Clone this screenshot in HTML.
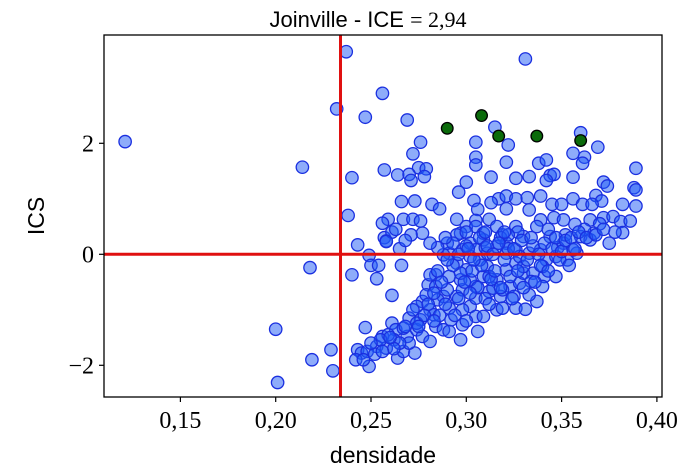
<!DOCTYPE html>
<html><head><meta charset="utf-8"><style>
html,body{margin:0;padding:0;background:#fff;}
svg{display:block;}
</style></head><body>
<svg id="chart" width="700" height="471" xmlns="http://www.w3.org/2000/svg">
<text x="368" y="27" text-anchor="middle" font-family="Liberation Sans, sans-serif" font-size="22">Joinville - ICE <tspan font-family="Liberation Serif, serif">= 2,94</tspan></text>
<g id="marks"></g>
<rect x="104" y="35" width="558" height="362" fill="none" stroke="#000" stroke-width="1.3"/>
<g id="axes"></g>
<text x="383" y="463" text-anchor="middle" font-family="Liberation Sans, sans-serif" font-size="23">densidade</text>
<text transform="translate(44,216) rotate(-90)" text-anchor="middle" font-family="Liberation Sans, sans-serif" font-size="23">ICS</text>
</svg>
<script>
const xTicks=[0.15,0.20,0.25,0.30,0.35,0.40];
const xTickLabels=["0,15","0,20","0,25","0,30","0,35","0,40"];
const yTicks=[-2,0,2];
const yTickLabels=["\u22122","0","2"];
const refX=0.234;
const refY=0;
const blueX=[0.121,0.237,0.232,0.256,0.247,0.238,0.214,0.240,0.218,0.331,0.200,0.201,0.219,0.229,0.230,0.247,0.240,0.243,0.249,0.250,0.253,0.254,0.265,0.266,0.257,0.261,0.258,0.261,0.257,
0.269,0.315,0.360,0.276,0.305,0.322,0.369,0.272,0.356,0.305,0.305,0.362,0.321,0.338,0.342,0.361,0.275,0.279,0.389,0.264,0.270,0.278,0.271,0.313,0.326,0.333,0.344,0.346,0.342,0.356,0.300,0.296,0.372,0.374,0.388,0.389,0.317,0.321,0.326,0.332,0.339,0.304,0.356,0.368,0.371,0.382,0.389,0.266,0.273,0.282,0.286,0.313,0.345,0.350,0.361,0.366,0.306,0.321,0.333,0.259,0.256,0.267,0.272,0.276,0.295,0.305,0.312,0.339,0.346,0.351,0.357,0.365,0.372,0.377,0.381,0.300,0.305,0.316,0.326,0.337,
0.243,0.245,0.242,0.249,0.253,0.256,0.258,0.261,0.263,0.262,0.264,0.267,0.269,0.273,0.270,0.274,0.277,0.281,0.276,0.277,0.281,0.284,0.288,0.291,0.297,0.298,0.306,0.280,0.284,0.281,0.288,0.291,0.295,0.298,0.302,0.305,0.297,0.300,0.305,0.309,0.312,0.316,0.319,0.326,0.331,0.337,0.318,0.323,0.328,0.333,0.330,0.326,0.321,0.316,0.311,0.307,0.302,0.298,0.295,0.291,0.288,0.302,0.309,0.316,0.321,0.326,0.333,0.339,0.342,0.347,0.353,0.358,0.341,0.347,0.340,0.351,0.360,0.365,0.375,0.382,0.367,0.297,0.277,0.271,0.258,0.309,0.319,0.330,0.344,0.325,0.312,0.302,0.290,0.284,0.279,0.274,0.283,0.285,0.292,0.298,0.305,0.309,0.314,0.319,0.321,0.328,0.335,0.340,0.334,0.330,0.311,0.305,0.297,0.291,0.274,0.267,0.259,0.255,0.248,
0.300,0.310,0.322,0.335,0.348,0.356,0.290,0.285,0.318,0.327,0.343,0.352,0.362,0.370,0.378,0.386,0.295,0.263,0.268,
0.293,0.296,0.299,0.301,0.303,0.306,0.307,0.308,0.310,0.311,0.313,0.314,0.315,0.317,0.318,0.320,0.322,0.323,0.324,0.325,0.327,0.329,0.330,0.332,0.334,0.336,0.338,0.339,0.341,0.343,0.345,0.347,0.349,0.350,0.352,0.354,0.355,0.357,0.359,0.363,0.368,0.372,0.287,0.283,0.280,0.278,0.275,0.272,0.270,0.268,0.265,0.262,0.260,0.289,0.286,0.283,0.294,0.300,0.296,0.304,0.312,0.302,0.285,0.290,0.293,0.320,0.310,0.300,0.289,0.281,0.252,0.250,0.256,0.246];
const blueY=[2.03,3.65,2.62,2.90,2.47,0.70,1.57,1.38,-0.24,3.52,-1.35,-2.31,-1.90,-1.72,-2.10,-1.32,-0.37,0.17,-0.02,-0.20,-0.44,-0.20,0.10,-0.20,0.30,-0.74,0.24,0.40,1.52,
2.42,2.29,2.19,2.02,2.02,1.97,1.93,1.81,1.82,1.75,1.61,1.75,1.66,1.64,1.70,1.64,1.56,1.54,1.55,1.43,1.44,1.40,1.33,1.39,1.37,1.40,1.42,1.44,1.33,1.39,1.30,1.12,1.30,1.23,1.20,1.16,1.00,1.05,1.00,1.02,1.05,0.97,1.00,1.06,0.96,0.90,0.87,0.95,0.96,0.90,0.82,0.93,0.90,0.90,0.90,0.90,0.81,0.82,0.80,0.63,0.56,0.63,0.63,0.60,0.63,0.61,0.63,0.62,0.66,0.62,0.54,0.62,0.66,0.68,0.59,0.50,0.50,0.50,0.50,0.50,
-1.72,-1.78,-1.90,-2.02,-1.66,-1.48,-1.69,-1.24,-1.36,-1.54,-1.87,-1.75,-1.48,-1.78,-1.15,-1.36,-1.48,-1.57,-1.18,-0.85,-1.00,-1.30,-1.36,-1.39,-1.54,-1.27,-1.39,-0.55,-0.37,-0.37,-0.76,-0.97,-0.76,-0.64,-0.94,-1.12,-0.46,-0.28,-0.58,-0.40,-0.67,-1.00,-0.97,-0.97,-0.99,-0.85,-0.76,-0.58,-0.52,-0.73,-0.34,-0.16,-0.28,-0.46,-0.22,-0.10,-0.04,0.08,-0.16,0.02,-0.01,0.20,0.26,0.14,0.20,0.08,0.02,0.08,-0.10,-0.04,-0.10,0.02,-0.40,-0.40,-0.22,0.20,0.32,0.26,0.20,0.39,0.38,0.38,0.38,0.35,0.23,0.38,0.35,0.32,0.32,-0.76,-0.40,-0.46,-0.64,-0.58,-0.73,-0.94,-1.09,-0.82,-1.18,-1.00,-0.79,-1.12,-0.61,-0.64,0.02,-0.04,-0.34,-0.58,-0.49,-0.22,0.02,0.08,-0.34,-0.40,-1.24,-1.33,-1.45,-1.54,-1.75,
0.15,0.12,0.10,0.15,0.12,0.08,0.20,0.12,0.30,0.40,0.45,0.35,0.45,0.55,0.40,0.60,0.35,0.45,0.25,
-0.20,0.00,-0.50,0.10,-0.30,-0.60,0.30,-0.20,-0.80,0.15,-0.45,0.00,-0.30,0.20,-0.60,-0.10,0.35,-0.40,-0.80,0.10,-0.30,0.25,-0.60,-0.10,0.30,-0.50,0.00,-0.20,0.20,-0.30,0.10,0.30,-0.10,0.05,0.25,-0.20,0.30,0.10,0.40,0.30,0.35,0.45,-0.50,-0.70,-0.90,-1.10,-1.30,-1.00,-1.60,-1.30,-1.60,-1.70,-1.50,-0.90,-1.10,-1.20,-1.10,-1.20,-0.80,-0.10,-0.90,-0.70,-0.30,-0.10,0.20,0.40,0.40,0.40,0.30,0.20,-1.80,-1.60,-1.75,-1.90];
const greenX=[0.290,0.308,0.317,0.337,0.360];
const greenY=[2.27,2.50,2.13,2.13,2.05];

const X0=104,X1=662,Y0=35,Y1=397;
function sx(v){return 275.7+(v-0.2)*1906;}
function sy(v){return 254.3-v*55.5;}
const NS="http://www.w3.org/2000/svg";
const marks=document.getElementById('marks');
const axes=document.getElementById('axes');
function mk(tag,attrs,parent){const e=document.createElementNS(NS,tag);for(const k in attrs)e.setAttribute(k,attrs[k]);parent.appendChild(e);return e;}
for(let i=0;i<blueX.length;i++){
  const c=mk('circle',{cx:sx(blueX[i]),cy:sy(blueY[i]),r:6.2,fill:'rgba(30,90,245,0.5)',stroke:'#1a2fe0','stroke-width':1.3},marks);
  
  
}
const vl=mk('line',{x1:sx(refX),x2:sx(refX),y1:Y0,y2:Y1,stroke:'#e01010','stroke-width':3},marks);


const hl=mk('line',{x1:X0,x2:X1,y1:sy(refY),y2:sy(refY),stroke:'#e01010','stroke-width':3},marks);


for(let i=0;i<greenX.length;i++){
  const c=mk('circle',{cx:sx(greenX[i]),cy:sy(greenY[i]),r:5.8,fill:'#0b6b0b',stroke:'#000','stroke-width':1.3},marks);
  
  
}
xTicks.forEach((t,i)=>{
  const x=sx(t);
  const tk=mk('line',{x1:x,x2:x,y1:Y1,y2:Y1+5,stroke:'#000','stroke-width':1.2},axes);
  
  
  const tx=mk('text',{x:x,y:Y1+31,'text-anchor':'middle','font-family':'Liberation Serif, serif','font-size':24},axes);
  tx.textContent=xTickLabels[i];
  
  
});
yTicks.forEach((t,i)=>{
  const y=sy(t);
  const tk=mk('line',{x1:X0-5,x2:X0,y1:y,y2:y,stroke:'#000','stroke-width':1.2},axes);
  
  
  const tx=mk('text',{x:X0-10,y:y+8,'text-anchor':'end','font-family':'Liberation Serif, serif','font-size':24},axes);
  tx.textContent=yTickLabels[i];
  
  
});
</script>
</body></html>
